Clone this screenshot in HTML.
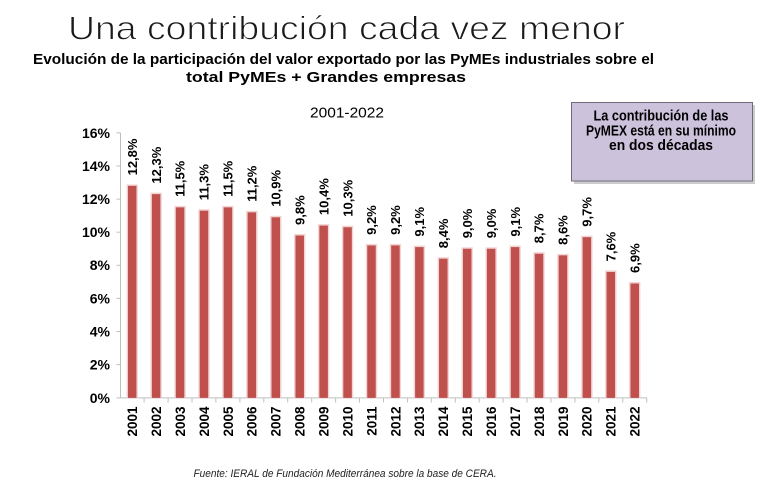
<!DOCTYPE html>
<html>
<head>
<meta charset="utf-8">
<style>
html,body{margin:0;padding:0;background:#fff;}
svg{display:block;}
text{font-family:"Liberation Sans",sans-serif;}
</style>
</head>
<body>
<svg width="760" height="481" viewBox="0 0 760 481" xmlns="http://www.w3.org/2000/svg">
<rect width="760" height="481" fill="#fff"/>
<!-- Title -->
<text x="68" y="39.5" font-size="33" fill="#1a1a1a" stroke="#fff" stroke-width="0.9" textLength="557" lengthAdjust="spacingAndGlyphs">Una contribución cada vez menor</text>
<text x="33" y="64" font-size="15" font-weight="bold" fill="#000" textLength="621" lengthAdjust="spacingAndGlyphs">Evolución de la participación del valor exportado por las PyMEs industriales sobre el</text>
<text x="186" y="82" font-size="15" font-weight="bold" fill="#000" textLength="280" lengthAdjust="spacingAndGlyphs">total PyMEs + Grandes empresas</text>
<text x="310" y="117.5" font-size="15" fill="#000" textLength="74" lengthAdjust="spacingAndGlyphs">2001-2022</text>

<!-- Callout box -->
<rect x="574" y="105" width="181" height="79" fill="#9a9a9a" opacity="0.5"/>
<rect x="571.5" y="102.5" width="181" height="78.5" fill="#cdc2dc" stroke="#6f6a78" stroke-width="1"/>
<g font-size="15" font-weight="bold" fill="#000" text-anchor="middle">
<text x="661" y="120.5" textLength="135" lengthAdjust="spacingAndGlyphs">La contribución de las</text>
<text x="661" y="135.5" textLength="150" lengthAdjust="spacingAndGlyphs">PyMEX está en su mínimo</text>
<text x="661" y="150" textLength="104" lengthAdjust="spacingAndGlyphs">en dos décadas</text>
</g>

<!-- Axes -->
<g stroke="#bfbfbf" stroke-width="1">
<line x1="120.5" y1="132.9" x2="120.5" y2="398"/>
<line x1="120.5" y1="397.9" x2="647" y2="397.9"/>
<line x1="116.5" y1="132.9" x2="120.5" y2="132.9"/>
<line x1="116.5" y1="166.0" x2="120.5" y2="166.0"/>
<line x1="116.5" y1="199.1" x2="120.5" y2="199.1"/>
<line x1="116.5" y1="232.2" x2="120.5" y2="232.2"/>
<line x1="116.5" y1="265.3" x2="120.5" y2="265.3"/>
<line x1="116.5" y1="298.4" x2="120.5" y2="298.4"/>
<line x1="116.5" y1="331.5" x2="120.5" y2="331.5"/>
<line x1="116.5" y1="364.6" x2="120.5" y2="364.6"/>
<line x1="116.5" y1="397.9" x2="120.5" y2="397.9"/>
<line x1="144.1" y1="398" x2="144.1" y2="402.5"/>
<line x1="168.1" y1="398" x2="168.1" y2="402.5"/>
<line x1="192.0" y1="398" x2="192.0" y2="402.5"/>
<line x1="215.9" y1="398" x2="215.9" y2="402.5"/>
<line x1="239.9" y1="398" x2="239.9" y2="402.5"/>
<line x1="263.8" y1="398" x2="263.8" y2="402.5"/>
<line x1="287.7" y1="398" x2="287.7" y2="402.5"/>
<line x1="311.7" y1="398" x2="311.7" y2="402.5"/>
<line x1="335.6" y1="398" x2="335.6" y2="402.5"/>
<line x1="359.5" y1="398" x2="359.5" y2="402.5"/>
<line x1="383.5" y1="398" x2="383.5" y2="402.5"/>
<line x1="407.4" y1="398" x2="407.4" y2="402.5"/>
<line x1="431.3" y1="398" x2="431.3" y2="402.5"/>
<line x1="455.3" y1="398" x2="455.3" y2="402.5"/>
<line x1="479.2" y1="398" x2="479.2" y2="402.5"/>
<line x1="503.1" y1="398" x2="503.1" y2="402.5"/>
<line x1="527.0" y1="398" x2="527.0" y2="402.5"/>
<line x1="551.0" y1="398" x2="551.0" y2="402.5"/>
<line x1="574.9" y1="398" x2="574.9" y2="402.5"/>
<line x1="598.8" y1="398" x2="598.8" y2="402.5"/>
<line x1="622.8" y1="398" x2="622.8" y2="402.5"/>
<line x1="646.7" y1="398" x2="646.7" y2="402.5"/>
</g>

<!-- Y labels -->
<g font-size="14" font-weight="bold" fill="#000" text-anchor="end">
<text x="110" y="137.8">16%</text>
<text x="110" y="170.9">14%</text>
<text x="110" y="204.0">12%</text>
<text x="110" y="237.1">10%</text>
<text x="110" y="270.2">8%</text>
<text x="110" y="303.3">6%</text>
<text x="110" y="336.4">4%</text>
<text x="110" y="369.5">2%</text>
<text x="110" y="402.8">0%</text>
</g>

<!-- Bars: shadow -->
<g fill="#f2d4d3">
<rect x="126.5" y="184.4" width="11.4" height="213.5"/>
<rect x="150.4" y="192.6" width="11.4" height="205.3"/>
<rect x="174.4" y="205.9" width="11.4" height="192.0"/>
<rect x="198.3" y="209.2" width="11.4" height="188.7"/>
<rect x="222.2" y="205.9" width="11.4" height="192.0"/>
<rect x="246.2" y="210.8" width="11.4" height="187.1"/>
<rect x="270.1" y="215.8" width="11.4" height="182.1"/>
<rect x="294.0" y="234.0" width="11.4" height="163.9"/>
<rect x="317.9" y="224.1" width="11.4" height="173.8"/>
<rect x="341.9" y="225.7" width="11.4" height="172.2"/>
<rect x="365.8" y="243.9" width="11.4" height="154.0"/>
<rect x="389.7" y="243.9" width="11.4" height="154.0"/>
<rect x="413.7" y="245.6" width="11.4" height="152.3"/>
<rect x="437.6" y="257.2" width="11.4" height="140.7"/>
<rect x="461.5" y="247.3" width="11.4" height="150.6"/>
<rect x="485.5" y="247.3" width="11.4" height="150.6"/>
<rect x="509.4" y="245.6" width="11.4" height="152.3"/>
<rect x="533.3" y="252.2" width="11.4" height="145.7"/>
<rect x="557.2" y="253.9" width="11.4" height="144.0"/>
<rect x="581.2" y="235.7" width="11.4" height="162.2"/>
<rect x="605.1" y="270.4" width="11.4" height="127.5"/>
<rect x="629.0" y="282.0" width="11.4" height="115.9"/>
</g>
<!-- Bars -->
<g fill="#c0504d">
<rect x="127.95" y="185.86" width="8.5" height="212.04"/>
<rect x="151.88" y="194.13" width="8.5" height="203.77"/>
<rect x="175.81" y="207.37" width="8.5" height="190.53"/>
<rect x="199.74" y="210.68" width="8.5" height="187.22"/>
<rect x="223.67" y="207.37" width="8.5" height="190.53"/>
<rect x="247.60" y="212.34" width="8.5" height="185.56"/>
<rect x="271.53" y="217.30" width="8.5" height="180.60"/>
<rect x="295.46" y="235.51" width="8.5" height="162.39"/>
<rect x="319.39" y="225.58" width="8.5" height="172.32"/>
<rect x="343.32" y="227.23" width="8.5" height="170.67"/>
<rect x="367.25" y="245.44" width="8.5" height="152.46"/>
<rect x="391.18" y="245.44" width="8.5" height="152.46"/>
<rect x="415.11" y="247.09" width="8.5" height="150.81"/>
<rect x="439.04" y="258.68" width="8.5" height="139.22"/>
<rect x="462.97" y="248.75" width="8.5" height="149.15"/>
<rect x="486.90" y="248.75" width="8.5" height="149.15"/>
<rect x="510.83" y="247.09" width="8.5" height="150.81"/>
<rect x="534.76" y="253.71" width="8.5" height="144.19"/>
<rect x="558.69" y="255.37" width="8.5" height="142.53"/>
<rect x="582.62" y="237.16" width="8.5" height="160.74"/>
<rect x="606.55" y="271.92" width="8.5" height="125.98"/>
<rect x="630.48" y="283.50" width="8.5" height="114.40"/>
</g>

<!-- Data labels -->
<g font-size="13" font-weight="bold" fill="#000">
<text transform="translate(132.2,175.4) rotate(-90)" dy="0.36em">12,8%</text>
<text transform="translate(156.13,183.6) rotate(-90)" dy="0.36em">12,3%</text>
<text transform="translate(180.06,196.9) rotate(-90)" dy="0.36em">11,5%</text>
<text transform="translate(203.99,200.2) rotate(-90)" dy="0.36em">11,3%</text>
<text transform="translate(227.92,196.9) rotate(-90)" dy="0.36em">11,5%</text>
<text transform="translate(251.85,201.8) rotate(-90)" dy="0.36em">11,2%</text>
<text transform="translate(275.78,206.8) rotate(-90)" dy="0.36em">10,9%</text>
<text transform="translate(299.71,225.0) rotate(-90)" dy="0.36em">9,8%</text>
<text transform="translate(323.64,215.1) rotate(-90)" dy="0.36em">10,4%</text>
<text transform="translate(347.57,216.7) rotate(-90)" dy="0.36em">10,3%</text>
<text transform="translate(371.5,234.9) rotate(-90)" dy="0.36em">9,2%</text>
<text transform="translate(395.43,234.9) rotate(-90)" dy="0.36em">9,2%</text>
<text transform="translate(419.36,236.6) rotate(-90)" dy="0.36em">9,1%</text>
<text transform="translate(443.29,248.2) rotate(-90)" dy="0.36em">8,4%</text>
<text transform="translate(467.22,238.3) rotate(-90)" dy="0.36em">9,0%</text>
<text transform="translate(491.15,238.3) rotate(-90)" dy="0.36em">9,0%</text>
<text transform="translate(515.08,236.6) rotate(-90)" dy="0.36em">9,1%</text>
<text transform="translate(539.01,243.2) rotate(-90)" dy="0.36em">8,7%</text>
<text transform="translate(562.94,244.9) rotate(-90)" dy="0.36em">8,6%</text>
<text transform="translate(586.87,226.7) rotate(-90)" dy="0.36em">9,7%</text>
<text transform="translate(610.8,261.4) rotate(-90)" dy="0.36em">7,6%</text>
<text transform="translate(634.73,273.0) rotate(-90)" dy="0.36em">6,9%</text>
</g>

<!-- Year labels -->
<g font-size="13.5" font-weight="bold" fill="#000" text-anchor="end">
<text transform="translate(132.2,406.5) rotate(-90)" dy="0.36em">2001</text>
<text transform="translate(156.13,406.5) rotate(-90)" dy="0.36em">2002</text>
<text transform="translate(180.06,406.5) rotate(-90)" dy="0.36em">2003</text>
<text transform="translate(203.99,406.5) rotate(-90)" dy="0.36em">2004</text>
<text transform="translate(227.92,406.5) rotate(-90)" dy="0.36em">2005</text>
<text transform="translate(251.85,406.5) rotate(-90)" dy="0.36em">2006</text>
<text transform="translate(275.78,406.5) rotate(-90)" dy="0.36em">2007</text>
<text transform="translate(299.71,406.5) rotate(-90)" dy="0.36em">2008</text>
<text transform="translate(323.64,406.5) rotate(-90)" dy="0.36em">2009</text>
<text transform="translate(347.57,406.5) rotate(-90)" dy="0.36em">2010</text>
<text transform="translate(371.5,406.5) rotate(-90)" dy="0.36em">2011</text>
<text transform="translate(395.43,406.5) rotate(-90)" dy="0.36em">2012</text>
<text transform="translate(419.36,406.5) rotate(-90)" dy="0.36em">2013</text>
<text transform="translate(443.29,406.5) rotate(-90)" dy="0.36em">2014</text>
<text transform="translate(467.22,406.5) rotate(-90)" dy="0.36em">2015</text>
<text transform="translate(491.15,406.5) rotate(-90)" dy="0.36em">2016</text>
<text transform="translate(515.08,406.5) rotate(-90)" dy="0.36em">2017</text>
<text transform="translate(539.01,406.5) rotate(-90)" dy="0.36em">2018</text>
<text transform="translate(562.94,406.5) rotate(-90)" dy="0.36em">2019</text>
<text transform="translate(586.87,406.5) rotate(-90)" dy="0.36em">2020</text>
<text transform="translate(610.8,406.5) rotate(-90)" dy="0.36em">2021</text>
<text transform="translate(634.73,406.5) rotate(-90)" dy="0.36em">2022</text>
</g>

<!-- Footer -->
<text x="193.5" y="477" font-size="11" font-style="italic" fill="#222" textLength="303" lengthAdjust="spacingAndGlyphs">Fuente: IERAL de Fundación Mediterránea sobre la base de CERA.</text>
</svg>
</body>
</html>
